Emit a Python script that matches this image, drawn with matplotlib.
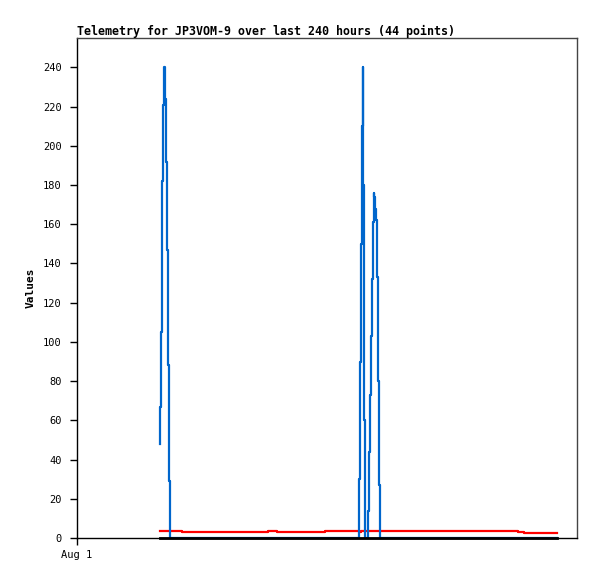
import matplotlib
matplotlib.use("Agg")
import matplotlib.pyplot as plt

# time of each sample, hours after Aug 1 00:00
hours = [39.6, 40.0, 40.3, 40.6, 41.0, 41.4, 41.8, 42.1, 42.5, 43.2,
         43.8, 44.3, 44.6, 50.2, 91.7, 95.8, 111.5, 119.0, 135.2, 135.7,
         136.3, 136.7, 137.1, 137.4, 137.6, 138.1, 139.5, 140.0, 140.5, 140.9,
         141.4, 141.9, 142.4, 142.6, 142.9, 143.3, 143.8, 144.5, 144.9, 145.4,
         211.8, 214.6, 230.4]
blue = [48, 67, 105, 144, 182, 221, 240, 224, 192, 147,
        88, 29, 0, 0, 0, 0, 0, 0, 30, 90,
        150, 210, 240, 180, 60, 0, 14, 44, 73, 103,
        132, 161, 176, 174, 168, 162, 133, 80, 27, 0,
        0, 0, 0]
red = [3.7, 3.7, 3.7, 3.7, 3.7, 3.7, 3.7, 3.7, 3.7, 3.7,
       3.7, 3.7, 3.7, 3.0, 3.7, 3.0, 3.3, 3.7, 3.0, 3.0,
       3.7, 3.7, 3.7, 3.7, 3.7, 3.7, 3.7, 3.7, 3.7, 3.7,
       3.7, 3.7, 3.7, 3.7, 3.7, 3.7, 3.7, 3.7, 3.7, 3.7,
       3.2, 2.7, 2.7]
black = [0] * len(hours)

yticks = list(range(0, 241, 20))

plt.rcParams['font.family'] = ['DejaVu Sans Mono']
fig = plt.figure(figsize=(5.97, 5.79), dpi=100)
ax = fig.add_axes([77/597, 1-538/579, 500/597, 500/579])

ax.plot(hours, red, drawstyle='steps-post', color='#ff0000', lw=1.6, zorder=2)
ax.plot(hours, blue, drawstyle='steps-post', color='#0066cc', lw=1.6, zorder=3)
ax.plot(hours, black, drawstyle='steps-post', color='black', lw=2.0,
        zorder=4, clip_on=False)

ax.set_xlim(0, 240)
ax.set_ylim(0, 255)
ax.set_yticks(yticks)
ax.set_xticks([0])
ax.set_xticklabels(['Aug 1'])
ax.tick_params(labelsize=7.5, length=5, width=1, direction='out')
ax.tick_params(axis='y', pad=6)
ax.tick_params(axis='x', pad=4)
ax.set_ylabel('Values', fontsize=8.0, fontweight='bold', labelpad=5)
ax.set_title('Telemetry for JP3VOM-9 over last 240 hours (44 points)',
             fontsize=8.4, fontweight='bold', loc='left', pad=2)

ax.spines['top'].set_color('#444444')
ax.spines['right'].set_color('#444444')
for s in ax.spines.values():
    s.set_linewidth(1)

fig.savefig('out.png', dpi=100)
